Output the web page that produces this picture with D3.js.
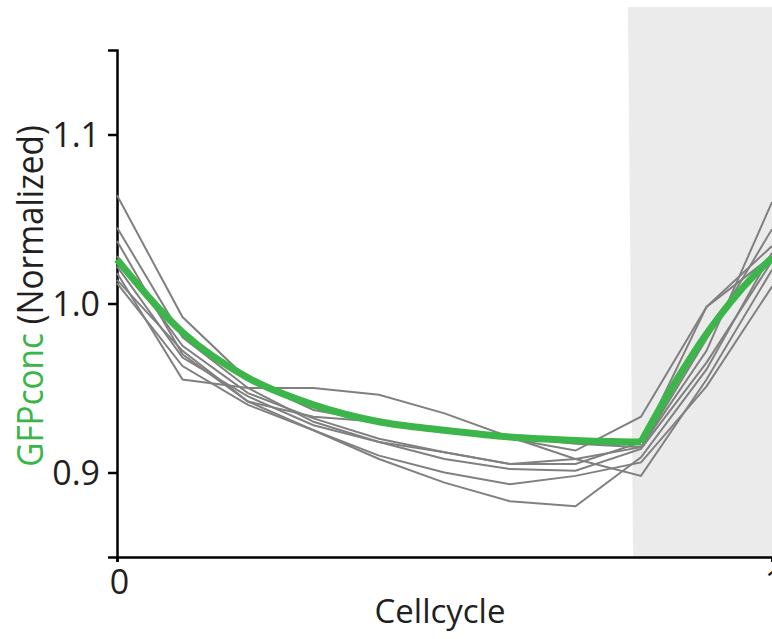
<!DOCTYPE html>
<html lang="en">
<head>
    <meta charset="UTF-8">
    <title>GFPconc over cell cycle</title>
    <script src="https://d3js.org/d3.v7.min.js"></script>
    <style>
        body {
            margin: 0;
            background-color: #fff;
            font-family: "Open Sans", sans-serif;
        }
        .tick text {
            font-size: 34px;
            fill: #231f20;
            font-family: "Open Sans", sans-serif;
        }
        .axis path, .axis line {
            stroke: #000;
            stroke-width: 2.5px;
        }
        .trace {
            fill: none;
            stroke: #808080;
            stroke-width: 2px;
        }
        .fit {
            fill: none;
            stroke: #3cb54a;
            stroke-width: 7px;
        }
    </style>
</head>
<body>
<svg id="chart" width="772" height="639"></svg>
<script>
    // cell cycle positions of the samples
    var phase = [0, 0.1, 0.2, 0.3, 0.4, 0.5, 0.6, 0.7, 0.8, 0.9, 1.0];

    // single-cell traces (gray)
    var traceA = [1.064, 0.992, 0.955, 0.937, 0.930, 0.926, 0.921, 0.917, 0.915, 0.972, 1.060];
    var traceB = [1.045, 0.980, 0.950, 0.930, 0.918, 0.912, 0.905, 0.905, 0.918, 0.998, 1.034];
    var traceC = [1.037, 0.970, 0.942, 0.925, 0.908, 0.894, 0.883, 0.880, 0.909, 0.961, 1.030];
    var traceD = [1.028, 0.975, 0.947, 0.932, 0.920, 0.912, 0.905, 0.908, 0.915, 0.979, 1.044];
    var traceE = [1.022, 0.968, 0.945, 0.928, 0.918, 0.908, 0.902, 0.901, 0.914, 0.965, 1.025];
    var traceF = [1.018, 0.955, 0.950, 0.950, 0.946, 0.935, 0.921, 0.908, 0.898, 0.955, 1.020];
    var traceG = [1.014, 0.972, 0.942, 0.933, 0.930, 0.925, 0.920, 0.913, 0.933, 0.998, 1.028];
    var traceH = [1.012, 0.963, 0.940, 0.925, 0.910, 0.900, 0.893, 0.898, 0.906, 0.951, 1.010];
    var traces = [traceA, traceB, traceC, traceD, traceE, traceF, traceG, traceH];

    // fitted curve (green), two pieces
    var fitPhase1 = [0, 0.1, 0.2, 0.3, 0.4, 0.5, 0.6, 0.7, 0.8];
    var fitValue1 = [1.026, 0.983, 0.956, 0.940, 0.930, 0.925, 0.921, 0.919, 0.918];
    var fitPhase2 = [0.8, 0.85, 0.9, 0.95, 1.0];
    var fitValue2 = [0.918, 0.952, 0.982, 1.007, 1.027];

    // shaded window (top edge, bottom edge)
    var shadeStart = [0.78, 0.788];

    var yTicks = [0.9, 1.0, 1.1];
    var xTicks = [0, 1];

    var svg = d3.select("#chart");

    var x = d3.scaleLinear().domain([0, 1]).range([117, 772]);
    var y = d3.scaleLinear().domain([0.85, 1.15]).range([557, 50]);

    // shaded region
    svg.append("path")
        .attr("fill", "#ebebeb")
        .attr("d", "M" + x(shadeStart[0]) + "," + 7
            + "L" + x(1) + "," + 7
            + "L" + x(1) + "," + y(0.85)
            + "L" + x(shadeStart[1]) + "," + y(0.85) + "Z");

    // axes
    var yAxis = svg.append("g")
        .attr("class", "axis")
        .attr("transform", "translate(" + x(0) + ",0)")
        .call(d3.axisLeft(y).tickValues(yTicks).tickFormat(d3.format(".1f")).tickSizeOuter(0).tickSize(9).tickPadding(8));

    var xAxis = svg.append("g")
        .attr("class", "axis")
        .attr("transform", "translate(0," + y(0.85) + ")")
        .call(d3.axisBottom(x).tickValues(xTicks).tickFormat(d3.format("d")).tickSizeOuter(0).tickSize(5).tickPadding(8));

    yAxis.selectAll(".tick text").attr("dy", "0.36em");
    xAxis.selectAll(".tick text").attr("dx", 2);

    var line = d3.line()
        .x(function (d) { return x(d[0]); })
        .y(function (d) { return y(d[1]); });

    svg.selectAll(".trace")
        .data(traces)
        .enter().append("path")
        .attr("class", "trace")
        .attr("d", function (t) { return line(phase.map(function (p, i) { return [p, t[i]]; })); });

    var smooth = d3.line()
        .x(function (d) { return x(d[0]); })
        .y(function (d) { return y(d[1]); })
        .curve(d3.curveMonotoneX);

    svg.append("path")
        .attr("class", "fit")
        .attr("d", smooth(fitPhase1.map(function (p, i) { return [p, fitValue1[i]]; })));
    svg.append("path")
        .attr("class", "fit")
        .attr("d", smooth(fitPhase2.map(function (p, i) { return [p, fitValue2[i]]; })));

    // labels
    svg.append("text")
        .attr("x", 440)
        .attr("y", 623)
        .attr("text-anchor", "middle")
        .attr("font-size", 33)
        .attr("fill", "#231f20")
        .text("Cellcycle");

    var ylab = svg.append("text")
        .attr("transform", "translate(43,296) rotate(-90) scale(0.9,1)")
        .attr("text-anchor", "middle")
        .attr("font-size", 37)
        .attr("fill", "#231f20");
    ylab.append("tspan").attr("fill", "#39b54a").text("GFPconc");
    ylab.append("tspan").text(" (Normalized)");
</script>
</body>
</html>
